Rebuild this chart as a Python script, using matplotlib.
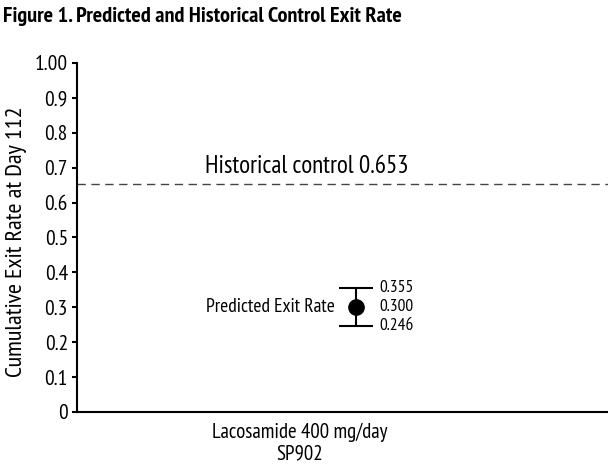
import matplotlib
matplotlib.use("Agg")
import matplotlib.pyplot as plt

plt.rcParams['font.family'] = ['PT Sans Narrow', 'DejaVu Sans']

# data
group_label = "Lacosamide 400 mg/day\nSP902"
predicted = 0.300
ci_low = 0.246
ci_high = 0.355
historical = 0.653
yticks = [0, 0.1, 0.2, 0.3, 0.4, 0.5, 0.6, 0.7, 0.8, 0.9, 1.0]
ytick_labels = ["0", "0.1", "0.2", "0.3", "0.4", "0.5", "0.6", "0.7", "0.8", "0.9", "1.00"]

fig = plt.figure(figsize=(6.08, 4.68), dpi=100)
ax = fig.add_axes([0.1266, 0.1197, 0.8734, 0.7457])

ax.axhline(historical, color="#444444", lw=1, dashes=(6, 4))
ax.text(-0.284, 0.685, "Historical control %.3f" % historical,
        fontsize=18, va="baseline", ha="left")

ax.errorbar([0], [predicted], yerr=[[predicted - ci_low], [ci_high - predicted]],
            fmt="o", color="black", ms=11, capsize=12, capthick=1.5, elinewidth=1.5)
ax.text(-0.04, predicted, "Predicted Exit Rate", fontsize=14, ha="right", va="center")
for v in (ci_high, predicted, ci_low):
    ax.text(0.045, v, "%.3f" % v, fontsize=12.5, ha="left", va="center")

ax.set_xlim(-0.525, 0.475)
ax.set_ylim(0, 1.0)
ax.set_yticks(yticks)
ax.set_yticklabels(ytick_labels, fontsize=15.5)
ax.set_xticks([])
ax.tick_params(axis="y", direction="out", length=3.5, width=1.5, pad=3)
for s in ("top", "right"):
    ax.spines[s].set_visible(False)
for s in ("left", "bottom"):
    ax.spines[s].set_linewidth(1.5)

ax.set_ylabel("Cumulative Exit Rate at Day 112", fontsize=17.5)
ax.yaxis.set_label_coords(-0.094, 0.487)
fig.text(300 / 608, 1 - 443 / 468, group_label, fontsize=15, ha="center", va="center",
         linespacing=1.15)
fig.text(3 / 608, 1 - 16 / 468, "Figure 1. Predicted and Historical Control Exit Rate",
         fontsize=16, fontweight="bold", ha="left", va="center")

fig.savefig("out.png", dpi=100)
